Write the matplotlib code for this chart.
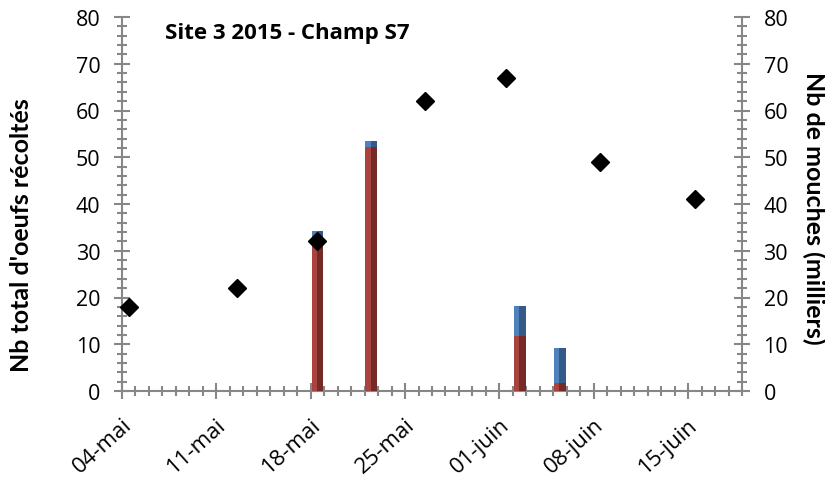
import matplotlib
matplotlib.use("Agg")
import matplotlib.pyplot as plt
import matplotlib.dates as mdates
import matplotlib.transforms as mtransforms
import numpy as np
import datetime as dt

plt.rcParams['font.family'] = ['Open Sans', 'DejaVu Sans']

# Data
bar_dates = ["2015-05-18", "2015-05-22", "2015-06-02", "2015-06-05"]
bar_blue = [34.3, 53.5, 18.2, 9.2]
bar_red = [33.0, 52.1, 11.8, 1.7]
fly_dates = ["2015-05-04", "2015-05-12", "2015-05-18", "2015-05-26", "2015-06-01", "2015-06-08", "2015-06-15"]
fly_values = [18, 22, 32, 62, 67, 49, 41]
tick_dates = ["2015-05-04", "2015-05-11", "2015-05-18", "2015-05-25", "2015-06-01", "2015-06-08", "2015-06-15"]
tick_labels = ["04-mai", "11-mai", "18-mai", "25-mai", "01-juin", "08-juin", "15-juin"]
axis_start, axis_end = "2015-05-04", "2015-06-19"

to_num = lambda ds: mdates.date2num([dt.datetime.strptime(d, "%Y-%m-%d") for d in ds])
bx = to_num(bar_dates) + 0.5   # points sit in the middle of their day
fx = to_num(fly_dates) + 0.5
tx = to_num(tick_dates)
x0, x1 = to_num([axis_start, axis_end])

fig = plt.figure(figsize=(8.25, 4.81), dpi=100)
ax = fig.add_axes([122 / 825, 1 - 392 / 481, 620 / 825, 374 / 481])
ax2 = ax.twinx()

gray = "#878787"
w = 0.88
ax.bar(bx, bar_blue, width=w, color="#4F81BD", zorder=2)
ax.bar(bx + w * 0.22, bar_blue, width=w * 0.56, color="#1F3B5E", alpha=0.55, zorder=2)
ax.bar(bx, bar_red, width=w, color="#A9433F", zorder=3)
ax.bar(bx + w * 0.22, bar_red, width=w * 0.56, color="#4A1614", alpha=0.55, zorder=3)

ax2.plot(fx, fly_values, linestyle="none", marker="D", markersize=9.5, color="black",
         zorder=5, clip_on=False)

for a in (ax, ax2):
    a.set_xlim(x0, x1)
    a.set_ylim(0, 80)
    a.set_yticks(np.arange(0, 81, 10))
    a.set_yticks(np.arange(0, 81, 2), minor=True)
    for s in a.spines.values():
        s.set_visible(False)

ax.spines['left'].set_visible(True)
ax.spines['bottom'].set_visible(True)
ax2.spines['right'].set_visible(True)
for s in (ax.spines['left'], ax.spines['bottom'], ax2.spines['right']):
    s.set_color(gray)
    s.set_linewidth(1.5)

for a in (ax, ax2):
    a.tick_params(which='major', direction='inout', length=11, width=1.5, color=gray, labelsize=15.5, pad=10)
    a.tick_params(which='minor', direction='inout', length=7, width=1.5, color=gray)
ax.tick_params(axis='x', which='major', pad=16.5, labelsize=16)

ax.set_xticks(tx)
ax.set_xticklabels(tick_labels, rotation=42, ha="right", va="center", rotation_mode="anchor")
ax.set_xticks(np.arange(x0, x1 + 0.01, 1), minor=True)
shift = mtransforms.ScaledTranslation(7 / 100, 0, fig.dpi_scale_trans)
for lab in ax.get_xticklabels():
    lab.set_transform(lab.get_transform() + shift)

ax.set_ylabel("Nb total d'oeufs récoltés", fontsize=18, fontweight='bold', family=['Lato', 'DejaVu Sans'])
ax.yaxis.set_label_coords(-0.1435, 0.42)
ax2.set_ylabel("Nb de mouches (milliers)", fontsize=18, fontweight='bold', rotation=270,
               family=['Lato', 'DejaVu Sans'], va='center')
ax2.yaxis.set_label_coords(1.115, 0.49)

ax.text(165, 481 - 39, "Site 3 2015 - Champ S7", transform=None, fontsize=16,
        fontweight='bold', ha='left', va='baseline')

fig.savefig("out.png", dpi=100)
